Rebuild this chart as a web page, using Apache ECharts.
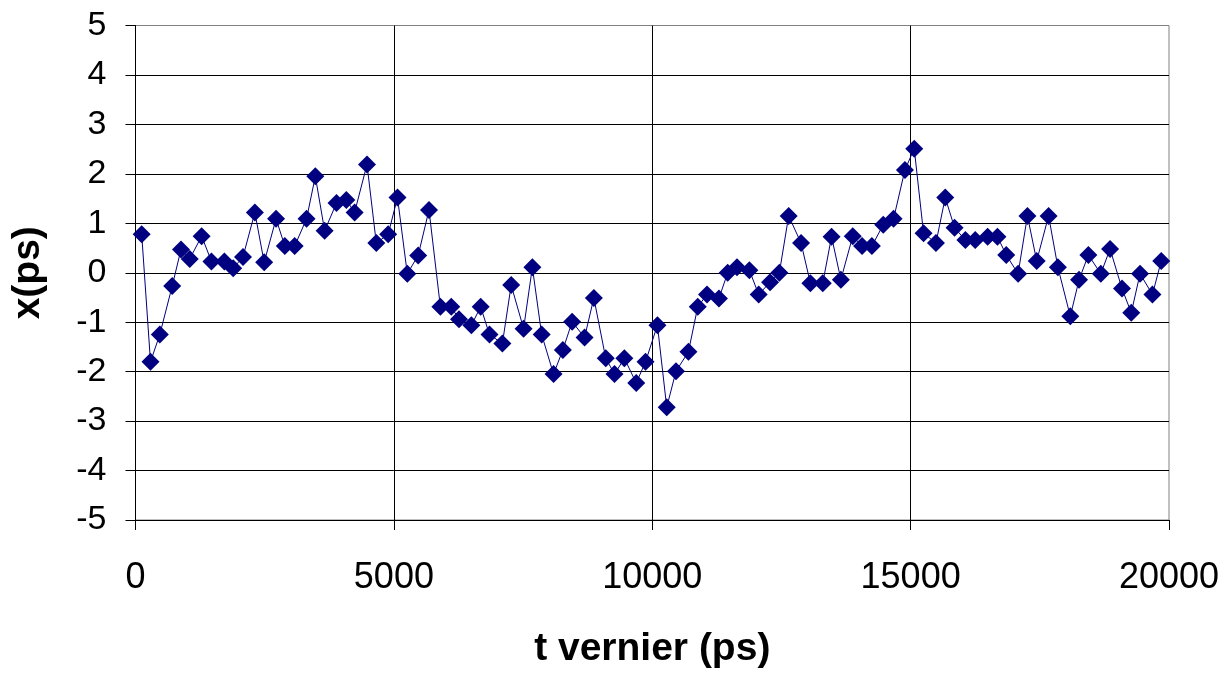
<!DOCTYPE html>
<html>
<head>
<meta charset="utf-8">
<script src="https://cdn.jsdelivr.net/npm/echarts@6/dist/echarts.min.js"></script>
<style>
  html, body { margin: 0; padding: 0; background: #fff; }
  #chart { width: 1230px; height: 674px; }
</style>
</head>
<body>
<div id="chart"></div>
<script>
// t vernier (ps)
var tValues = [
  120, 290, 470, 710, 880, 1050, 1280, 1470, 1720, 1890,
  2080, 2310, 2490, 2720, 2890, 3080, 3310, 3480, 3660, 3890,
  4080, 4240, 4480, 4660, 4890, 5070, 5260, 5470, 5680, 5900,
  6110, 6260, 6500, 6680, 6850, 7100, 7270, 7510, 7680, 7860,
  8090, 8270, 8450, 8690, 8870, 9100, 9270, 9460, 9690, 9870,
  10100, 10280, 10460, 10700, 10880, 11060, 11290, 11460, 11640, 11880,
  12060, 12280, 12460, 12640, 12880, 13060, 13300, 13470, 13650, 13880,
  14060, 14250, 14470, 14670, 14890, 15070, 15250, 15490, 15670, 15850,
  16060, 16250, 16490, 16680, 16850, 17080, 17260, 17440, 17670, 17850,
  18090, 18260, 18440, 18680, 18860, 19090, 19270, 19440, 19680, 19850
];
// x (ps)
var xValues = [
  0.78, -1.80, -1.25, -0.27, 0.47, 0.28, 0.74, 0.23, 0.23, 0.09,
  0.32, 1.22, 0.21, 1.09, 0.54, 0.54, 1.09, 1.95, 0.85, 1.41,
  1.47, 1.22, 2.19, 0.60, 0.78, 1.52, -0.02, 0.35, 1.27, -0.69,
  -0.69, -0.94, -1.06, -0.69, -1.25, -1.43, -0.25, -1.13, 0.11, -1.25,
  -2.05, -1.56, -0.99, -1.31, -0.51, -1.73, -2.05, -1.73, -2.23, -1.80,
  -1.06, -2.72, -1.99, -1.60, -0.69, -0.44, -0.52, 0.00, 0.11, 0.05,
  -0.44, -0.19, 0.00, 1.15, 0.60, -0.21, -0.21, 0.73, -0.14, 0.74,
  0.54, 0.54, 0.97, 1.09, 2.08, 2.51, 0.80, 0.60, 1.52, 0.91,
  0.66, 0.66, 0.73, 0.73, 0.36, -0.02, 1.15, 0.24, 1.15, 0.11,
  -0.88, -0.14, 0.36, -0.02, 0.48, -0.32, -0.81, -0.02, -0.44, 0.24
];

var points = tValues.map(function (t, i) { return [t, xValues[i]]; });

var chart = echarts.init(document.getElementById('chart'), null, { renderer: 'canvas' });
var font = '"Liberation Sans", Arial, sans-serif';

chart.setOption({
  backgroundColor: '#ffffff',
  animation: false,
  grid: {
    left: 135.5, right: 61, top: 25.5, bottom: 152,
    show: true, borderColor: '#808080', borderWidth: 1
  },
  xAxis: {
    type: 'value', min: 0, max: 20000, interval: 5000,
    name: 't vernier (ps)', nameLocation: 'middle', nameGap: 110,
    nameTextStyle: { fontFamily: font, fontSize: 39, fontWeight: 'bold', color: '#000' },
    axisLine: { show: true, onZero: false, lineStyle: { color: '#000', width: 1 } },
    axisTick: { show: true, inside: false, length: 10, lineStyle: { color: '#000' } },
    axisLabel: {
      margin: 40, fontFamily: font, fontSize: 36, color: '#000',
      formatter: function (v) { return String(v); }
    },
    splitLine: { show: true, showMaxLine: false, lineStyle: { color: '#000', width: 1 } }
  },
  yAxis: {
    type: 'value', min: -5, max: 5, interval: 1,
    name: 'x(ps)', nameLocation: 'middle', nameGap: 88,
    nameTextStyle: { fontFamily: font, fontSize: 39, fontWeight: 'bold', color: '#000' },
    axisLine: { show: true, onZero: false, lineStyle: { color: '#000', width: 1 } },
    axisTick: { show: true, inside: false, length: 10, lineStyle: { color: '#000' } },
    axisLabel: { margin: 29, fontFamily: font, fontSize: 34, color: '#000' },
    splitLine: { show: true, showMaxLine: false, lineStyle: { color: '#000', width: 1 } }
  },
  series: [{
    type: 'line',
    data: points,
    symbol: 'diamond',
    symbolSize: 18,
    showAllSymbol: true,
    lineStyle: { color: '#000080', width: 1 },
    itemStyle: { color: '#000080' }
  }]
});
</script>
</body>
</html>
